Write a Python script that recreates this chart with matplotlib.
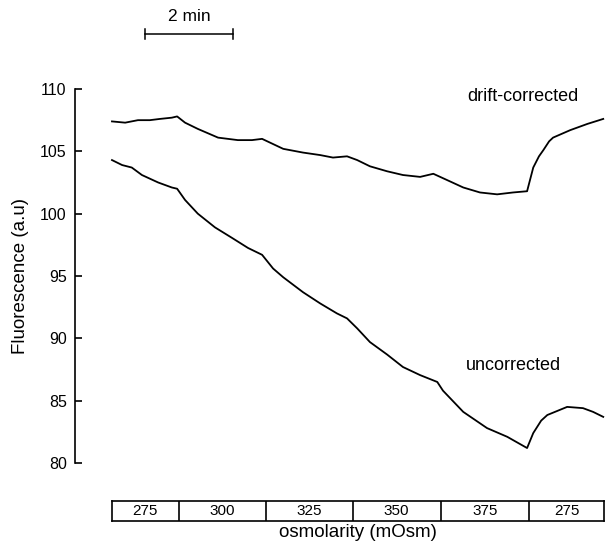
import matplotlib.pyplot as plt

plt.rcParams["font.family"] = ["Liberation Sans", "DejaVu Sans"]

# time (min since start of trace) and fluorescence (a.u.)
drift_t = [0.00, 0.30, 0.59, 0.86, 1.09, 1.36, 1.48, 1.66, 1.95, 2.41, 2.86, 3.18,
           3.41, 3.59, 3.89, 4.34, 4.73, 5.02, 5.34, 5.57, 5.86, 6.25, 6.61, 7.00,
           7.30, 7.61, 7.98, 8.36, 8.75, 9.11, 9.43, 9.57, 9.70, 9.80, 9.93, 10.02,
           10.41, 10.80, 11.16]
drift_f = [107.4, 107.3, 107.5, 107.5, 107.6, 107.7, 107.8, 107.3, 106.8, 106.1, 105.9, 105.9,
           106.0, 105.7, 105.2, 104.9, 104.7, 104.5, 104.6, 104.3, 103.8, 103.4, 103.1, 102.95,
           103.2, 102.7, 102.1, 101.7, 101.55, 101.7, 101.8, 103.7, 104.6, 105.1, 105.8, 106.1,
           106.7, 107.2, 107.6]

raw_t = [0.00, 0.23, 0.45, 0.68, 1.05, 1.36, 1.48, 1.66, 1.95, 2.34, 2.73, 3.09,
         3.41, 3.66, 3.89, 4.34, 4.73, 5.11, 5.34, 5.57, 5.86, 6.25, 6.61, 7.00,
         7.39, 7.52, 7.98, 8.52, 8.98, 9.43, 9.57, 9.75, 9.89, 10.34, 10.70, 10.93, 11.16]
raw_f = [104.3, 103.9, 103.7, 103.1, 102.5, 102.1, 102.0, 101.1, 100.0, 98.9, 98.05, 97.25,
         96.7, 95.6, 94.9, 93.7, 92.8, 92.0, 91.6, 90.8, 89.7, 88.7, 87.7, 87.05,
         86.5, 85.8, 84.1, 82.8, 82.1, 81.2, 82.4, 83.4, 83.85, 84.5, 84.4, 84.1, 83.7]

# perfusion protocol: segment edges (min) and osmolarity of each segment
osm_edges = [0.0, 1.52, 3.5, 5.48, 7.48, 9.5, 11.2]
osm_labels = ["275", "300", "325", "350", "375", "275"]

T_END = 11.2
T_LEFT = -0.84  # y-axis sits a bit left of where the trace starts

fig = plt.figure(figsize=(6.05, 5.48), dpi=100)
ax = fig.add_axes([75 / 605, 1 - 463 / 548, 1 - 75 / 605, (463 - 89) / 548])
ax.plot(drift_t, drift_f, color="black", lw=1.3)
ax.plot(raw_t, raw_f, color="black", lw=1.3)
ax.set_xlim(T_LEFT, T_END)
ax.set_ylim(80, 110)
ax.set_yticks(range(80, 111, 5))
ax.set_xticks([])
for s in ("top", "right", "bottom"):
    ax.spines[s].set_visible(False)
ax.spines["left"].set_linewidth(1.2)
ax.tick_params(axis="y", direction="in", length=5, width=1.2, labelsize=11.5, pad=6)
ax.set_ylabel("Fluorescence (a.u)", fontsize=13.5, labelpad=8)

ax.text(8.07, 109.36, "drift-corrected", fontsize=13, va="center", ha="left")
ax.text(8.05, 87.8, "uncorrected", fontsize=13, va="center", ha="left")

# 2 min scale bar
ax.plot([0.75, 2.75], [114.4, 114.4], color="black", lw=1.1, clip_on=False)
for xb in (0.75, 2.75):
    ax.plot([xb, xb], [114.0, 114.8], color="black", lw=1.1, clip_on=False)
ax.text(1.75, 115.2, "2 min", fontsize=12.5, ha="center", va="bottom")

# osmolarity bar
bx = fig.add_axes([112 / 605, 1 - 521 / 548, 492 / 605, 20 / 548])
bx.set_xlim(0, T_END)
bx.set_ylim(0, 1)
bx.set_xticks([])
bx.set_yticks([])
for s in bx.spines.values():
    s.set_linewidth(1.2)
for e in osm_edges[1:-1]:
    bx.axvline(e, color="black", lw=1.2)
for a, b, lab in zip(osm_edges[:-1], osm_edges[1:], osm_labels):
    bx.text((a + b) / 2, 0.5, lab, ha="center", va="center", fontsize=11)
bx.set_xlabel("osmolarity (mOsm)", fontsize=13.5, labelpad=2)

fig.savefig("out.png", dpi=100)
